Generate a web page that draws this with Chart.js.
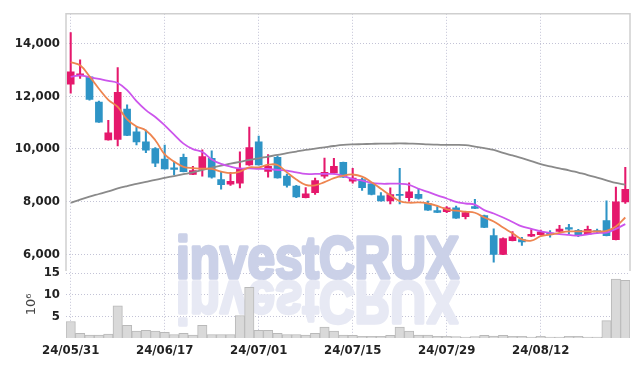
<!DOCTYPE html>
<html>
<head>
<meta charset="utf-8">
<script src="https://cdn.jsdelivr.net/npm/chart.js@4.4.1/dist/chart.umd.min.js"></script>
<style>
  html, body { margin: 0; padding: 0; background: #fff; }
</style>
</head>
<body>
<canvas id="priceChart" width="639" height="366"></canvas>
<script>
// trading days (KRX), 24/05/31 .. 24/08/26
const dates = [
  "24/05/31","24/06/03","24/06/04","24/06/05","24/06/07","24/06/10","24/06/11","24/06/12","24/06/13","24/06/14",
  "24/06/17","24/06/18","24/06/19","24/06/20","24/06/21","24/06/24","24/06/25","24/06/26","24/06/27","24/06/28",
  "24/07/01","24/07/02","24/07/03","24/07/04","24/07/05","24/07/08","24/07/09","24/07/10","24/07/11","24/07/12",
  "24/07/15","24/07/16","24/07/17","24/07/18","24/07/19","24/07/22","24/07/23","24/07/24","24/07/25","24/07/26",
  "24/07/29","24/07/30","24/07/31","24/08/01","24/08/02","24/08/05","24/08/06","24/08/07","24/08/08","24/08/09",
  "24/08/12","24/08/13","24/08/14","24/08/16","24/08/19","24/08/20","24/08/21","24/08/22","24/08/23","24/08/26"
];
const tickIdx = [0, 10, 20, 30, 40, 50];
const priceTicks = [6000, 8000, 10000, 12000, 14000];
const volTicks = [5, 10, 15];

const opens  = [12450,12770,12730,11770,10340,10360,11510,10650,10270,10010,9610,9280,9680,9030,9220,9640,8840,8660,8700,9390,
                10270,9150,9680,8970,8590,8150,8340,8970,9090,9490,8780,8840,8680,8220,8030,8280,8150,8280,7930,7660,
                7620,7770,7430,7810,7470,6710,6000,6520,6560,6690,6750,6810,6870,7020,6910,6770,6900,7280,6560,7990];
const highs  = [14410,13380,12740,11810,11080,13080,11670,10830,10710,10050,10140,9490,9800,9340,9960,9930,9110,9110,9890,10830,
                10490,9780,9740,9050,8620,8530,8890,9650,9640,9500,9260,8890,8700,8340,8520,9260,8710,8490,8020,7810,
                7810,7830,7610,8090,7490,6970,6630,6870,6650,6940,6920,6900,7100,7140,6950,7070,6960,8030,8550,9300];
const lows   = [12110,12670,11850,11000,10330,10110,10500,10150,9860,9330,9230,9010,9130,9020,8970,8890,8470,8620,8520,9370,
                9380,8930,8890,8550,8150,8140,8270,8890,9050,8920,8700,8430,8260,8020,7910,7910,8020,8090,7670,7580,
                7580,7360,7350,7730,7010,5710,5990,6510,6340,6670,6730,6650,6850,6790,6670,6750,6790,6700,6550,7930];
const closes = [12920,12850,11880,11010,10610,12140,10510,10260,9950,9460,9240,9220,9140,9180,9710,8930,8640,8770,9260,10050,
                9390,9340,8900,8620,8180,8300,8800,9110,9340,8930,8890,8530,8270,8030,8270,8240,8370,8120,7680,7590,
                7770,7370,7590,7740,7020,6000,6600,6670,6470,6760,6850,6750,6960,6960,6710,6950,6850,6710,7990,8470];

// moving average lines as drawn
const maShort = [13290,13170,12750,12280,11860,11590,11120,10850,10700,10330,9790,9520,9320,9270,9250,9240,9140,9080,9140,9300,
                 9300,9400,9390,9110,8840,8640,8620,8740,8890,8990,9030,8950,8740,8490,8240,8020,7960,7970,7930,7840,
                 7710,7660,7620,7580,7400,7250,7020,6800,6570,6520,6690,6750,6820,6870,6870,6870,6870,6890,7060,7400];
const maMid   = [12730,12790,12720,12650,12580,12500,12230,11810,11470,11210,10890,10540,10200,9990,9880,9600,9430,9330,9260,9260,
                 9240,9240,9200,9180,9110,9050,9050,9050,9050,8970,8860,8800,8710,8680,8680,8680,8640,8490,8370,8240,
                 8120,7990,7930,7890,7680,7550,7400,7230,7060,6970,6870,6820,6770,6740,6710,6760,6810,6830,6970,7150];
const maLong  = [7960,8080,8190,8290,8390,8500,8590,8670,8750,8830,8900,8970,9040,9110,9200,9290,9370,9440,9510,9580,
                 9640,9710,9770,9840,9900,9960,10010,10060,10110,10150,10170,10180,10190,10200,10200,10210,10200,10190,10170,10160,
                 10150,10150,10140,10090,10030,9960,9850,9750,9650,9540,9420,9340,9260,9190,9100,9010,8910,8810,8710,8640];

// volume, millions of shares
const volumes = [3.8,1.05,0.7,0.7,0.9,7.45,2.9,1.6,1.8,1.6,1.3,0.8,1.05,0.7,2.9,0.8,0.8,0.8,5.2,11.7,
                 1.8,1.8,1.05,0.8,0.8,0.7,1.05,2.5,1.6,0.7,0.6,0.4,0.4,0.4,0.6,2.5,1.6,0.7,0.7,0.4,
                 0.4,0.3,0.2,0.3,0.6,0.45,0.6,0.4,0.4,0.2,0.4,0.2,0.2,0.4,0.4,0.2,0.2,4.0,13.6,13.3];

const UP = "#e5186c";
const DOWN = "#2e94c6";
const GRID = "rgba(175,175,200,0.75)";
const TICK_FONT = { family: '"DejaVu Sans Condensed", "DejaVu Sans", sans-serif', size: 13, weight: "bold" };

const candleColors = opens.map((o, i) => closes[i] >= o ? UP : DOWN);

// watermark with its mirror image
const watermark = {
  id: "watermark",
  beforeDatasetsDraw(chart) {
    const ctx = chart.ctx;
    const text = "investCRUX";
    const size = 62;
    ctx.save();
    ctx.font = "bold " + size + "px 'Liberation Sans', Arial, sans-serif";
    const w = ctx.measureText(text).width;
    const sx = 283 / w;
    const sy = 43 / (size * 0.716);
    ctx.translate(176, 278);
    ctx.scale(sx, sy);
    ctx.textBaseline = "alphabetic";
    ctx.lineJoin = "round";
    ctx.lineWidth = 3.5;
    ctx.fillStyle = ctx.strokeStyle = "#cbd1e8";
    ctx.fillText(text, 0, 0);
    ctx.strokeText(text, 0, 0);
    ctx.scale(1, -1);
    ctx.fillStyle = ctx.strokeStyle = "#e7e9f4";
    ctx.fillText(text, 0, -4);
    ctx.strokeText(text, 0, -4);
    ctx.restore();
  }
};

// frame round the price panel
const panelFrame = {
  id: "panelFrame",
  afterDraw(chart) {
    const ctx = chart.ctx;
    const a = chart.chartArea;
    const ys = chart.scales.y;
    ctx.save();
    ctx.strokeStyle = "#cfcfcf";
    ctx.lineWidth = 1.5;
    ctx.beginPath();
    ctx.moveTo(a.left, ys.bottom);
    ctx.lineTo(a.left, a.top);
    ctx.lineTo(a.right, a.top);
    ctx.lineTo(a.right, ys.bottom);
    ctx.stroke();
    ctx.restore();
  }
};

const ctx = document.getElementById("priceChart");

new Chart(ctx, {
  type: "bar",
  data: {
    labels: dates,
    datasets: [
      { type: "line", data: maShort, borderColor: "#ee8550", borderWidth: 1.8, pointRadius: 0, tension: 0.4, order: 0, yAxisID: "y" },
      { type: "line", data: maMid, borderColor: "#cc55ec", borderWidth: 1.8, pointRadius: 0, tension: 0.4, order: 0, yAxisID: "y" },
      { type: "line", data: maLong, borderColor: "#8a8a8a", borderWidth: 1.8, pointRadius: 0, tension: 0.4, order: 0, yAxisID: "y" },
      {
        data: lows.map((l, i) => [l, highs[i]]),
        backgroundColor: candleColors,
        barThickness: 1.4,
        grouped: false,
        order: 2,
        yAxisID: "y"
      },
      {
        data: opens.map((o, i) => [o, closes[i]]),
        backgroundColor: candleColors,
        barThickness: 7,
        grouped: false,
        order: 1,
        yAxisID: "y"
      },
      {
        data: volumes,
        backgroundColor: "#d9d9d9",
        borderColor: "#b9b9b9",
        borderWidth: 1,
        barPercentage: 1,
        categoryPercentage: 1,
        grouped: false,
        order: 3,
        yAxisID: "yv"
      }
    ]
  },
  options: {
    responsive: false,
    animation: false,
    layout: { padding: { top: 9, right: 9, left: 0, bottom: 0 } },
    plugins: {
      legend: { display: false },
      tooltip: { enabled: false }
    },
    scales: {
      x: {
        offset: true,
        grid: { offset: false, color: GRID, drawTicks: false },
        border: { display: false, dash: [1, 2] },
        ticks: { autoSkip: false, maxRotation: 0, padding: 5, color: "#222", font: TICK_FONT },
        afterBuildTicks: ax => { ax.ticks = tickIdx.map(v => ({ value: v })); },
        afterFit: ax => { ax.height = 28; }
      },
      y: {
        stack: "panels",
        stackWeight: 3.83,
        weight: 2,
        min: 5376,
        max: 15121,
        grid: { color: GRID, drawTicks: false },
        border: { display: false, dash: [1, 2] },
        ticks: {
          autoSkip: false,
          padding: 6,
          color: "#222",
          font: TICK_FONT,
          callback: v => v.toLocaleString("en-US")
        },
        afterBuildTicks: ax => { ax.ticks = priceTicks.map(v => ({ value: v })); },
        afterFit: ax => { ax.width = 66; }
      },
      yv: {
        stack: "panels",
        stackWeight: 1,
        weight: 1,
        min: 0,
        max: 15.5,
        grid: { color: GRID, drawTicks: false },
        border: { display: false, dash: [1, 2] },
        title: {
          display: true,
          text: "10⁶",
          color: "#444",
          font: { family: "'DejaVu Sans', sans-serif", size: 13 },
          padding: { top: 24, bottom: 0 }
        },
        ticks: { autoSkip: false, padding: 6, color: "#222", font: TICK_FONT },
        afterBuildTicks: ax => { ax.ticks = volTicks.map(v => ({ value: v })); },
        afterFit: ax => { ax.width = 66; }
      }
    }
  },
  plugins: [watermark, panelFrame]
});
</script>
</body>
</html>
